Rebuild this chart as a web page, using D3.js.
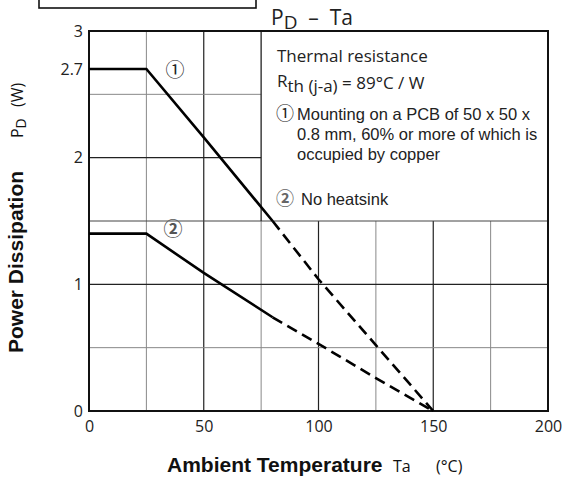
<!DOCTYPE html>
<html>
<head>
<meta charset="utf-8">
<script src="https://cdn.jsdelivr.net/npm/d3@7"></script>
<style>
  body { margin: 0; background: #fff; }
  svg { display: block; }
</style>
</head>
<body>
<svg id="chart" width="564" height="479"></svg>
<script>
// P_D - Ta derating data
let tempTicks = [0, 50, 100, 150, 200];
let powerTicks = [0, 1, 2, 2.7, 3];

// curve 1: PCB mounting
let pcbTemp  = [0, 25, 50, 80, 100, 125, 150];
let pcbPower = [2.7, 2.7, 2.16, 1.5, 1.04, 0.52, 0];

// curve 2: no heatsink
let freeTemp  = [0, 25, 50, 80, 100, 125, 150];
let freePower = [1.4, 1.4, 1.09, 0.74, 0.53, 0.26, 0];

let solidLimit = 80;   // beyond this the lines are dashed

let chart = d3.select("#chart");
let plotLeft = 89, plotRight = 548, plotTop = 31, plotBottom = 411;

let x = d3.scaleLinear().domain([0, 200]).range([plotLeft, plotRight]);
let y = d3.scaleLinear().domain([0, 3]).range([plotBottom, plotTop]);

// grid, the legend box (75..200, 1.5..3) hides it
let grid = chart.append("g");
d3.range(25, 200, 25).forEach(function(t) {
    let major = t % 50 == 0;
    let yEnd = t >= 75 ? y(1.5) : plotTop;
    grid.append("line")
        .attr("x1", x(t)).attr("x2", x(t))
        .attr("y1", plotBottom).attr("y2", yEnd)
        .attr("stroke", major ? "#222" : "#888")
        .attr("stroke-width", major ? 1.2 : 1);
});
[0.5, 1, 1.5, 2, 2.5].forEach(function(p) {
    let major = p % 1 == 0;
    let xEnd = p > 1.5 ? x(75) : plotRight;
    grid.append("line")
        .attr("x1", plotLeft).attr("x2", xEnd)
        .attr("y1", y(p)).attr("y2", y(p))
        .attr("stroke", p == 1.5 ? "#444" : (major ? "#222" : "#888"))
        .attr("stroke-width", major ? 1.2 : 1);
});

// legend box left edge
chart.append("line")
    .attr("x1", x(75)).attr("x2", x(75))
    .attr("y1", y(1.5)).attr("y2", plotTop)
    .attr("stroke", "#222").attr("stroke-width", 1.3);

// frame
chart.append("rect")
    .attr("x", plotLeft).attr("y", plotTop)
    .attr("width", plotRight - plotLeft).attr("height", plotBottom - plotTop)
    .attr("fill", "none").attr("stroke", "#111").attr("stroke-width", 2);

// axes
let xAxis = d3.axisBottom(x).tickValues(tempTicks).tickSize(0).tickPadding(10)
    .tickFormat(d3.format("d"));
let xAxisGroup = chart.append("g")
    .attr("transform", "translate(0," + plotBottom + ")")
    .call(xAxis);
let yAxis = d3.axisLeft(y).tickValues(powerTicks).tickSize(0).tickPadding(6)
    .tickFormat(function(d) { return d; });
let yAxisGroup = chart.append("g")
    .attr("transform", "translate(" + plotLeft + ",0)")
    .call(yAxis);
[xAxisGroup, yAxisGroup].forEach(function(g) {
    g.select(".domain").remove();
    g.selectAll("text")
        .style("font-family", "'Open Sans', sans-serif")
        .style("font-size", "16px")
        .style("fill", "#222");
});

// curves
function drawCurve(temps, powers) {
    let pts = temps.map(function(t, i) { return [t, powers[i]]; });
    let solid = pts.filter(function(d) { return d[0] <= solidLimit; });
    let dashed = pts.filter(function(d) { return d[0] >= solidLimit; });
    let line = d3.line()
        .x(function(d) { return x(d[0]); })
        .y(function(d) { return y(d[1]); });
    chart.append("path")
        .attr("d", line(solid))
        .attr("fill", "none").attr("stroke", "#000").attr("stroke-width", 2.6);
    chart.append("path")
        .attr("d", line(dashed))
        .attr("fill", "none").attr("stroke", "#000").attr("stroke-width", 2.6)
        .attr("stroke-dasharray", "11,6");
}
drawCurve(pcbTemp, pcbPower);
drawCurve(freeTemp, freePower);

// circled curve numbers
chart.append("text").text("①")
    .attr("x", 175).attr("y", 77)
    .attr("text-anchor", "middle")
    .style("font-family", "'Noto Sans CJK JP', sans-serif")
    .style("font-size", "19px").style("fill", "#222");
chart.append("text").text("②")
    .attr("x", 173).attr("y", 236)
    .attr("text-anchor", "middle")
    .style("font-family", "'Noto Sans CJK JP', sans-serif")
    .style("font-size", "19px").style("font-weight", "bold").style("fill", "#555");

// legend text
let legend = chart.append("g").style("fill", "#222");
legend.append("text").text("Thermal resistance")
    .attr("x", 277).attr("y", 62)
    .style("font-family", "'Open Sans', sans-serif").style("font-size", "17px");
let rth = legend.append("text")
    .attr("x", 277).attr("y", 87)
    .style("font-family", "'Open Sans', sans-serif").style("font-size", "17px");
rth.append("tspan").text("R");
rth.append("tspan").text("th (j-a)").attr("dy", 5);
rth.append("tspan").text(" = 89°C / W").attr("dy", -3);

legend.append("text").text("①")
    .attr("x", 276).attr("y", 120)
    .style("font-family", "'Noto Sans CJK JP', sans-serif").style("font-size", "18px");
let noteLines = ["Mounting on a PCB of 50 x 50 x", "0.8 mm, 60% or more of which is", "occupied by copper"];
legend.selectAll(".note")
    .data(noteLines)
    .enter()
    .append("text")
    .attr("class", "note")
    .attr("x", 297)
    .attr("y", function(d, i) { return 120 + i * 20; })
    .style("font-family", "'Liberation Sans', Arial, sans-serif")
    .style("font-size", "16.5px")
    .text(function(d) { return d; });
legend.append("text").text("②")
    .attr("x", 276).attr("y", 205)
    .style("font-family", "'Noto Sans CJK JP', sans-serif").style("font-size", "18px")
    .style("font-weight", "bold").style("fill", "#666");
legend.append("text").text("No heatsink")
    .attr("x", 301).attr("y", 205)
    .style("font-family", "'Liberation Sans', Arial, sans-serif")
    .style("font-size", "16.5px");

// title
let title = chart.append("text")
    .attr("x", 271).attr("y", 25)
    .style("font-family", "'Open Sans', sans-serif").style("font-size", "21px")
    .style("fill", "#222")
    .attr("xml:space", "preserve");
title.append("tspan").text("P");
title.append("tspan").text("D").attr("dy", 4).style("font-size", "19px");
title.append("tspan").text("  –  Ta").attr("dy", -4);

// empty box at top left
chart.append("rect")
    .attr("x", 39).attr("y", -5)
    .attr("width", 217).attr("height", 13)
    .attr("fill", "none").attr("stroke", "#111").attr("stroke-width", 1.6);

// axis titles
let xTitle = chart.append("text")
    .attr("x", 167).attr("y", 472)
    .style("fill", "#111");
xTitle.append("tspan").text("Ambient Temperature")
    .style("font-family", "'Liberation Sans', Arial, sans-serif")
    .style("font-weight", "bold").style("font-size", "21px");
xTitle.append("tspan").text("Ta").attr("x", 393)
    .style("font-family", "'Open Sans', sans-serif").style("font-size", "16px");
xTitle.append("tspan").text("(°C)").attr("x", 436)
    .style("font-family", "'Open Sans', sans-serif").style("font-size", "16px");

let yTitle = chart.append("g")
    .attr("transform", "translate(23,353) rotate(-90)")
    .style("fill", "#111");
yTitle.append("text").text("Power Dissipation")
    .style("font-family", "'Liberation Sans', Arial, sans-serif")
    .style("font-weight", "bold").style("font-size", "21px");
let pdLabel = yTitle.append("text")
    .attr("x", 215)
    .style("font-family", "'Open Sans', sans-serif").style("font-size", "16px");
pdLabel.append("tspan").text("P");
pdLabel.append("tspan").text("D").attr("dy", 3).style("font-size", "14px");
yTitle.append("text").text("(W)")
    .attr("x", 246)
    .style("font-family", "'Open Sans', sans-serif").style("font-size", "16px");
</script>
</body>
</html>
